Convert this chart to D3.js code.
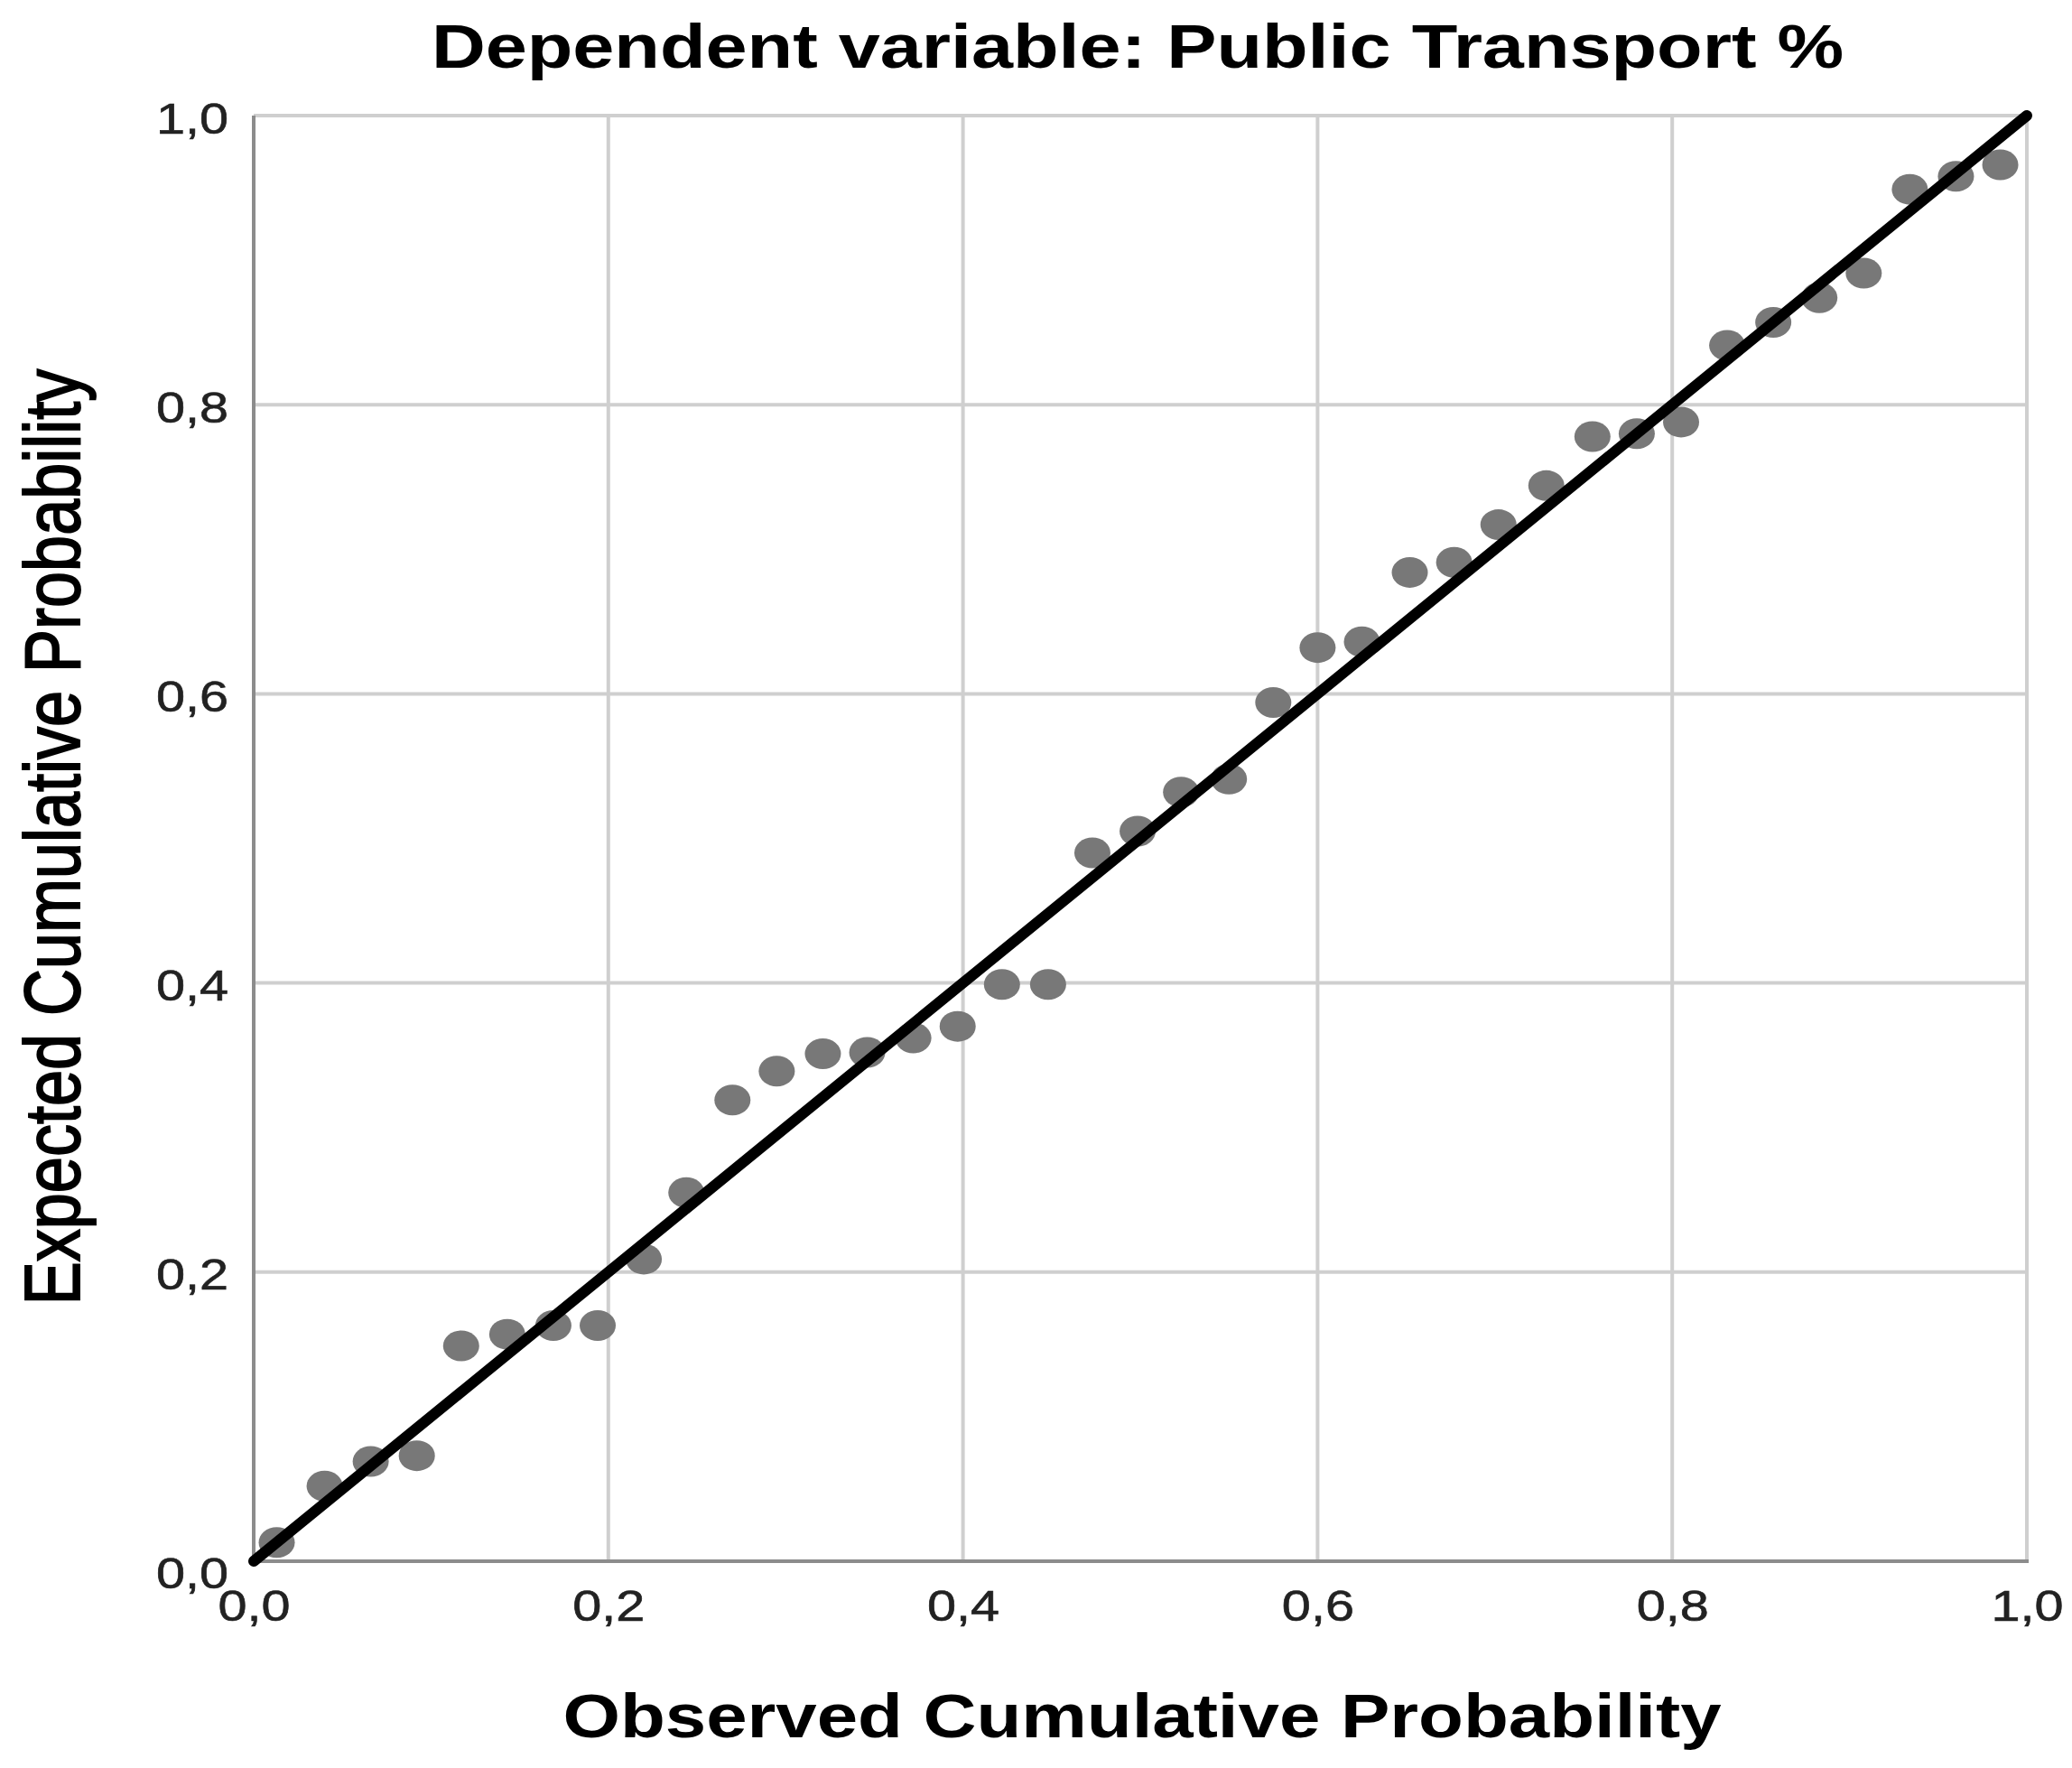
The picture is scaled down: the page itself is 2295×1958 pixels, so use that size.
<!DOCTYPE html>
<html>
<head>
<meta charset="utf-8">
<script src="https://cdn.jsdelivr.net/npm/d3@7"></script>
<style>
  html, body { margin: 0; padding: 0; background: #fff; }
  svg { display: block; }
</style>
</head>
<body>
<script>
// ---- data ----
const chartTitle = "Dependent variable: Public Transport %";
const xTitle = "Observed Cumulative Probability";
const yTitle = "Expected Cumulative Probability";
const xTicks = [0, 0.2, 0.4, 0.6, 0.8, 1.0];
const yTicks = [0, 0.2, 0.4, 0.6, 0.8, 1.0];
const tickLabels = ["0,0", "0,2", "0,4", "0,6", "0,8", "1,0"];
const observed = [0.013,0.040,0.066,0.092,0.117,0.143,0.169,0.194,0.220,0.244,
                  0.270,0.295,0.321,0.346,0.372,0.397,0.422,0.448,0.473,0.4985,
                  0.523,0.550,0.575,0.600,0.625,0.652,0.677,0.702,0.729,0.755,
                  0.780,0.805,0.831,0.857,0.883,0.908,0.934,0.960,0.985];
const expected = [0.013,0.052,0.069,0.073,0.149,0.157,0.163,0.163,0.209,0.255,
                  0.319,0.339,0.351,0.352,0.362,0.370,0.399,0.399,0.490,0.505,
                  0.532,0.541,0.594,0.632,0.636,0.684,0.691,0.717,0.744,0.778,
                  0.780,0.788,0.841,0.857,0.874,0.891,0.949,0.958,0.966];
const refLine = [0, 1];

// ---- layout ----
const W = 2295, H = 1958;
const L = 281, R = 2245, T = 128, B = 1729;
const SX = 1.2; // horizontal stretch of the reference image
const FONT = "'Liberation Sans', Arial, Helvetica, sans-serif";

const svg = d3.select("body").append("svg").attr("width", W).attr("height", H);

const x = d3.scaleLinear().domain([0, 1]).range([L, R]);
const y = d3.scaleLinear().domain([0, 1]).range([B, T]);

const fmt = d => tickLabels[xTicks.indexOf(d)];

// gridlines
const grid = svg.append("g");
grid.selectAll("line.v").data(xTicks.slice(1)).join("line")
  .attr("x1", d => x(d)).attr("x2", d => x(d))
  .attr("y1", T).attr("y2", B)
  .attr("stroke", "#cfcfcf").attr("stroke-width", 4);
grid.selectAll("line.h").data(yTicks.slice(1)).join("line")
  .attr("x1", L).attr("x2", R)
  .attr("y1", d => y(d)).attr("y2", d => y(d))
  .attr("stroke", "#cfcfcf").attr("stroke-width", 4);

// axes lines (left and bottom)
svg.append("line").attr("x1", L).attr("x2", L).attr("y1", T).attr("y2", B + 2)
  .attr("stroke", "#8c8c8c").attr("stroke-width", 4);
svg.append("line").attr("x1", L - 2).attr("x2", R + 2).attr("y1", B).attr("y2", B)
  .attr("stroke", "#8c8c8c").attr("stroke-width", 4);

// x axis tick labels
const xAxis = svg.append("g").attr("transform", `translate(0,${B})`)
  .call(d3.axisBottom(x).tickValues(xTicks).tickFormat(fmt).tickSize(0));
xAxis.select(".domain").remove();
xAxis.selectAll("text")
  .attr("y", null).attr("dy", null)
  .attr("transform", `translate(0,66) scale(${SX},1)`)
  .attr("font-family", FONT).attr("font-size", 48).attr("fill", "#222")
  .attr("stroke", "#222").attr("stroke-width", 0.6)
  .attr("text-anchor", "middle");

// y axis tick labels
const yAxis = svg.append("g").attr("transform", `translate(${L},0)`)
  .call(d3.axisLeft(y).tickValues(yTicks).tickFormat(fmt).tickSize(0));
yAxis.select(".domain").remove();
yAxis.selectAll("text")
  .attr("x", null).attr("dy", null)
  .attr("transform", d => `translate(-28,${d === 0 ? 29 : 19}) scale(${SX},1)`)
  .attr("font-family", FONT).attr("font-size", 48).attr("fill", "#222")
  .attr("stroke", "#222").attr("stroke-width", 0.6)
  .attr("text-anchor", "end");

// points
svg.append("g").selectAll("ellipse").data(observed).join("ellipse")
  .attr("cx", (d, i) => x(d))
  .attr("cy", (d, i) => y(expected[i]))
  .attr("rx", 20).attr("ry", 17)
  .attr("fill", "#787878");

// reference line
svg.append("path")
  .datum(refLine)
  .attr("d", d3.line().x(d => x(d)).y(d => y(d)))
  .attr("stroke", "#000").attr("stroke-width", 12)
  .attr("stroke-linecap", "round").attr("fill", "none");

// titles
svg.append("text")
  .attr("transform", `translate(1260,75) scale(${SX},1)`)
  .attr("text-anchor", "middle")
  .attr("font-family", FONT).attr("font-weight", "bold").attr("font-size", 69)
  .attr("fill", "#000").text(chartTitle);

svg.append("text")
  .attr("transform", `translate(1265,1924) scale(${SX},1)`)
  .attr("text-anchor", "middle")
  .attr("font-family", FONT).attr("font-weight", "bold").attr("font-size", 68)
  .attr("fill", "#000").text(xTitle);

svg.append("text")
  .attr("transform", `translate(88,927) scale(${SX},1) rotate(-90)`)
  .attr("text-anchor", "middle")
  .attr("font-family", FONT).attr("font-size", 72)
  .attr("stroke", "#000").attr("stroke-width", 1.6)
  .attr("fill", "#000").text(yTitle);
</script>
</body>
</html>
